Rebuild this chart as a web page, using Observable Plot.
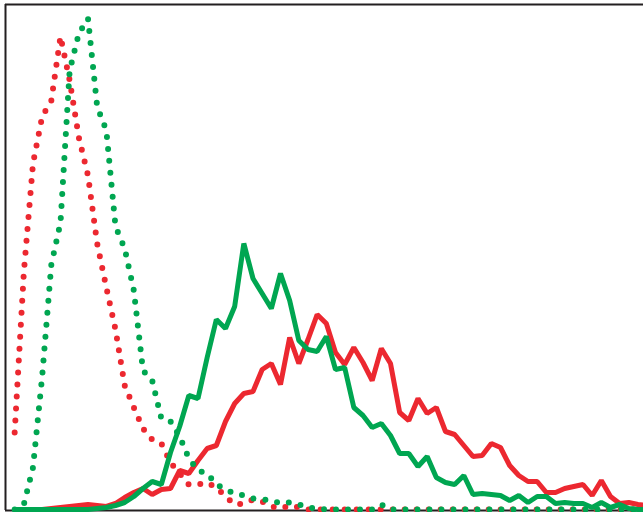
<!DOCTYPE html>
<html>
<head>
<meta charset="utf-8">
<script src="https://cdn.jsdelivr.net/npm/d3@7"></script>
<script src="https://cdn.jsdelivr.net/npm/@observablehq/plot@0.6"></script>
<style>
  html, body { margin: 0; padding: 0; background: #ffffff; }
  #chart svg { display: block; overflow: hidden; }
</style>
</head>
<body>
<div id="chart"></div>
<script>
// Bin index (channel) for every series, 1..70
const bins = d3.range(1, 71);

// Solid red histogram (counts)
const redSolid = [
  1, 1, 1, 1, 2, 3, 4, 5, 6, 5,
  4, 7, 13, 18, 22, 16, 21, 22, 40, 37,
  50, 62, 65, 89, 107, 117, 119, 141, 147, 126,
  173, 147, 171, 196, 187, 158, 146, 163, 148, 130,
  162, 147, 98, 90, 112, 97, 103, 79, 76, 65,
  54, 55, 67, 63, 45, 35, 29, 29, 18, 18,
  22, 24, 26, 15, 30, 14, 7, 8, 6, 5
];

// Solid green histogram (counts)
const greenSolid = [
  1, 1, 1, 1, 1, 1, 1, 1, 1, 2,
  3, 5, 8, 14, 22, 29, 26, 58, 84, 115,
  112, 153, 191, 182, 204, 267, 232, 217, 202, 237,
  210, 170, 161, 159, 174, 141, 143, 103, 95, 83,
  87, 75, 57, 57, 44, 54, 33, 28, 26, 35,
  16, 17, 16, 15, 10, 15, 8, 14, 14, 7,
  8, 7, 7, 3, 8, 3, 6, 2, 1, 1
];

// Dotted red histogram (counts)
const redDotted = [
  78, 238, 347, 394, 410, 474, 430, 373, 335, 267,
  223, 181, 125, 103, 82, 71, 67, 48, 37, 26,
  26, 28, 23, 14, 6, 7, 11, 9, 4, 2,
  5, 3, 1, 1, 1, 1, 1, 1, 1, 1,
  1, 1, 1, 1, 1, 1, 1, 1, 1, 1,
  1, 1, 1, 1, 1, 1, 1, 1, 1, 1,
  1, 1, 1, 1, 1, 1, 1, 1, 1, 1
];

// Dotted green histogram (counts)
const greenDotted = [
  1, 6, 43, 134, 246, 288, 440, 477, 492, 404,
  380, 284, 262, 220, 140, 130, 92, 89, 74, 52,
  40, 37, 26, 21, 17, 15, 12, 11, 10, 7,
  8, 6, 3, 2, 1, 1, 1, 1, 1, 1,
  6, 1, 1, 1, 1, 1, 1, 1, 1, 1,
  1, 1, 1, 1, 1, 1, 1, 1, 1, 1,
  1, 1, 1, 1, 1, 1, 1, 1, 1, 1
];

const series = (vals) => bins.map((b, k) => ({bin: b, count: vals[k]}));

const RED = "#ec2830";
const GREEN = "#00a651";
const FRAME = "#231f20";

const chart = Plot.plot({
  width: 643,
  height: 512,
  marginLeft: 5,
  marginRight: 0,
  marginTop: 4,
  marginBottom: 2,
  x: {domain: [0, 69.6], axis: null},
  y: {domain: [0, 506], axis: null},
  style: {background: "#ffffff", overflow: "hidden"},
  marks: [
    Plot.ruleX([0], {stroke: FRAME, strokeWidth: 2}),
    Plot.ruleY([0], {stroke: FRAME, strokeWidth: 2}),
    Plot.ruleY([506], {stroke: FRAME, strokeWidth: 2}),
    Plot.line(series(redDotted), {x: "bin", y: "count", stroke: RED, strokeWidth: 6,
      strokeDasharray: "0 12", strokeLinecap: "round", strokeLinejoin: "round"}),
    Plot.line(series(redSolid), {x: "bin", y: "count", stroke: RED, strokeWidth: 5,
      strokeLinecap: "butt", strokeLinejoin: "miter"}),
    Plot.line(series(greenDotted), {x: "bin", y: "count", stroke: GREEN, strokeWidth: 6,
      strokeDasharray: "0 12", strokeLinecap: "round", strokeLinejoin: "round"}),
    Plot.line(series(greenSolid), {x: "bin", y: "count", stroke: GREEN, strokeWidth: 5,
      strokeLinecap: "butt", strokeLinejoin: "miter"})
  ]
});

document.getElementById("chart").appendChild(chart);
</script>
</body>
</html>
